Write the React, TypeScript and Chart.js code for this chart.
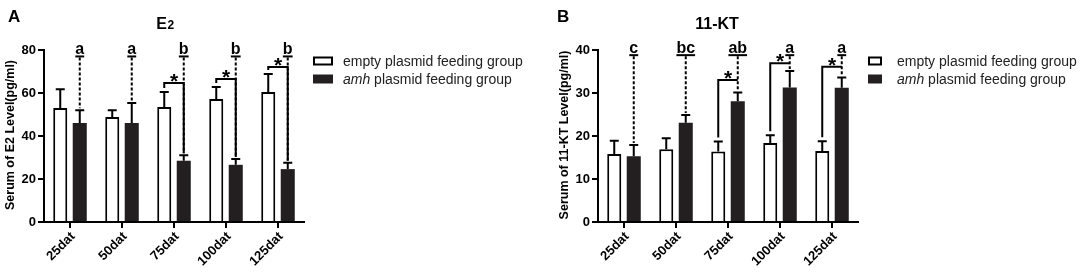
import React, { useEffect, useRef } from "react";
import { Chart, registerables } from "chart.js";
Chart.register(...registerables);

// ---------- data ----------
const categories = ["25dat", "50dat", "75dat", "100dat", "125dat"];

// Panel A: E2
const e2Empty = [53, 48.8, 53.5, 57.2, 60.5];
const e2EmptySem = [8.8, 3.2, 7.0, 5.6, 8.3];
const e2Amh = [46, 46, 28.5, 26.6, 24.6];
const e2AmhSem = [6.0, 9.3, 2.5, 2.7, 3.0];
const e2Letters = ["a", "a", "b", "b", "b"];
const e2LetterLevel = 77;
const e2Brackets: (number | null)[] = [null, null, 64.7, 66.5, 72.1];
const e2Max = 80;
const e2Step = 20;

// Panel B: 11-KT
const ktEmpty = [15.8, 16.9, 16.4, 18.4, 16.5];
const ktEmptySem = [3.1, 2.6, 2.3, 1.8, 2.3];
const ktAmh = [15.3, 23.1, 28.1, 31.3, 31.2];
const ktAmhSem = [2.6, 1.8, 2.0, 3.8, 2.4];
const ktLetters = ["c", "bc", "ab", "a", "a"];
const ktLetterLevel = 38.8;
const ktBrackets: (number | null)[] = [null, null, 33.0, 36.9, 36.1];
const ktMax = 40;
const ktStep = 10;

const seriesNames = ["empty plasmid feeding group", "amh plasmid feeding group"];

const FONT = '"Liberation Sans", Arial, Helvetica, sans-serif';
const DARK = "#231f20";

type PanelCfg = {
  letter: string;
  title: string;
  titleSub: string;
  yLabel: string;
  empty: number[];
  emptySem: number[];
  amh: number[];
  amhSem: number[];
  letters: string[];
  letterLevel: number;
  brackets: (number | null)[];
  yMax: number;
  yStep: number;
  solidRight: boolean;
  canvasW: number;
  areaLeft: number;
  areaRight: number;
  titleX: number;
  letterX: number;
  yLabelX: number;
  legendX: number;
  legendBoxW: number;
  legendTextX: number;
};

function makeOverlay(p: PanelCfg) {
  return {
    id: "overlay",
    afterDatasetsDraw(chart: any) {
      const ctx = chart.ctx as CanvasRenderingContext2D;
      const y = chart.scales.y;
      const m0 = chart.getDatasetMeta(0);
      const m1 = chart.getDatasetMeta(1);
      ctx.save();
      ctx.strokeStyle = "#000";
      ctx.fillStyle = "#000";
      // error bars
      const sets: [any, number[], number[]][] = [
        [m0, p.empty, p.emptySem],
        [m1, p.amh, p.amhSem],
      ];
      ctx.lineWidth = 2;
      sets.forEach(([m, v, s]) => {
        m.data.forEach((bar: any, i: number) => {
          const top = y.getPixelForValue(v[i] + s[i]);
          ctx.beginPath();
          ctx.moveTo(bar.x, bar.y);
          ctx.lineTo(bar.x, top);
          ctx.moveTo(bar.x - 4.5, top);
          ctx.lineTo(bar.x + 4.5, top);
          ctx.stroke();
        });
      });
      // letters + dashed lines
      const ly = y.getPixelForValue(p.letterLevel);
      m1.data.forEach((bar: any, i: number) => {
        const errTop = y.getPixelForValue(p.amh[i] + p.amhSem[i]);
        ctx.lineWidth = 2;
        ctx.setLineDash([3, 2]);
        ctx.beginPath();
        ctx.moveTo(bar.x, ly + 1);
        ctx.lineTo(bar.x, errTop - 2);
        ctx.stroke();
        ctx.setLineDash([]);
        ctx.font = `bold 16px ${FONT}`;
        ctx.textAlign = "center";
        ctx.textBaseline = "alphabetic";
        const t = p.letters[i];
        ctx.fillText(t, bar.x, ly - 2);
        const w = ctx.measureText(t).width;
        ctx.beginPath();
        ctx.moveTo(bar.x - w / 2, ly);
        ctx.lineTo(bar.x + w / 2, ly);
        ctx.stroke();
      });
      // significance brackets
      p.brackets.forEach((lvl, i) => {
        if (lvl == null) return;
        const x0 = m0.data[i].x;
        const x1 = m1.data[i].x;
        const by = y.getPixelForValue(lvl);
        const top0 = y.getPixelForValue(p.empty[i] + p.emptySem[i]) - 4;
        ctx.lineWidth = 2;
        ctx.beginPath();
        ctx.moveTo(x0, top0);
        ctx.lineTo(x0, by);
        ctx.lineTo(x1, by);
        if (p.solidRight) {
          ctx.lineTo(x1, y.getPixelForValue(p.amh[i] + p.amhSem[i]) - 2);
        }
        ctx.stroke();
        ctx.font = `bold 21px ${FONT}`;
        ctx.textAlign = "center";
        ctx.textBaseline = "alphabetic";
        ctx.fillText("*", (x0 + x1) / 2, by + 5);
      });
      ctx.restore();
    },
    afterDraw(chart: any) {
      const ctx = chart.ctx as CanvasRenderingContext2D;
      const area = chart.chartArea;
      ctx.save();
      ctx.fillStyle = "#000";
      ctx.textBaseline = "alphabetic";
      // panel letter
      ctx.font = `bold 17px ${FONT}`;
      ctx.textAlign = "left";
      ctx.fillText(p.letter, p.letterX, 22);
      // title
      ctx.font = `bold 16px ${FONT}`;
      const mainW = ctx.measureText(p.title).width;
      ctx.font = `bold 12px ${FONT}`;
      const subW = p.titleSub ? ctx.measureText(p.titleSub).width : 0;
      const startX = p.titleX - (mainW + subW) / 2;
      ctx.font = `bold 16px ${FONT}`;
      ctx.fillText(p.title, startX, 29);
      if (p.titleSub) {
        ctx.font = `bold 12px ${FONT}`;
        ctx.fillText(p.titleSub, startX + mainW + 0.5, 29);
      }
      // y label
      ctx.save();
      ctx.translate(p.yLabelX, (area.top + area.bottom) / 2 - 1);
      ctx.rotate(-Math.PI / 2);
      ctx.font = `bold 12.5px ${FONT}`;
      ctx.textAlign = "center";
      ctx.textBaseline = "middle";
      ctx.fillText(p.yLabel, 0, 0);
      ctx.restore();
      // legend
      const rows = [61, 79];
      ctx.lineWidth = 2;
      ctx.strokeStyle = "#000";
      ctx.strokeRect(p.legendX + 1, rows[0] - 3.5, p.legendBoxW - 2, 7);
      ctx.fillStyle = DARK;
      ctx.fillRect(p.legendX, rows[1] - 4.5, p.legendBoxW, 9);
      ctx.fillStyle = "#222";
      ctx.textAlign = "left";
      ctx.textBaseline = "middle";
      ctx.font = `14px ${FONT}`;
      ctx.fillText(seriesNames[0], p.legendTextX, rows[0] + 1);
      const parts = seriesNames[1].split(" ");
      const first = parts[0];
      const rest = " " + parts.slice(1).join(" ");
      ctx.font = `italic 14px ${FONT}`;
      ctx.fillText(first, p.legendTextX, rows[1] + 1);
      const fw = ctx.measureText(first).width;
      ctx.font = `14px ${FONT}`;
      ctx.fillText(rest, p.legendTextX + fw, rows[1] + 1);
      ctx.restore();
    },
  };
}

function Panel({ p, left }: { p: PanelCfg; left: number }) {
  const ref = useRef<HTMLCanvasElement>(null);
  useEffect(() => {
    const chart = new Chart(ref.current as HTMLCanvasElement, {
      type: "bar",
      data: {
        labels: categories,
        datasets: [
          {
            label: seriesNames[0],
            data: p.empty,
            backgroundColor: "#ffffff",
            borderColor: "#000000",
            borderWidth: 2,
            barPercentage: 0.72,
            categoryPercentage: 0.75,
          },
          {
            label: seriesNames[1],
            data: p.amh,
            backgroundColor: DARK,
            borderColor: DARK,
            borderWidth: 0,
            barPercentage: 0.72,
            categoryPercentage: 0.75,
          },
        ],
      },
      options: {
        responsive: false,
        animation: false,
        devicePixelRatio: 1,
        layout: {
          padding: { left: 0, top: 50, right: p.canvasW - p.areaRight, bottom: 0 },
        },
        plugins: {
          legend: { display: false },
          title: { display: false },
          tooltip: { enabled: false },
        },
        scales: {
          x: {
            offset: true,
            grid: {
              display: true,
              offset: false,
              drawOnChartArea: false,
              drawTicks: true,
              tickLength: 6,
              color: "#000",
              lineWidth: 2,
            },
            border: { display: true, color: "#000", width: 2 },
            ticks: {
              color: "#000",
              font: { family: FONT, size: 13, weight: "bold" },
              minRotation: 45,
              maxRotation: 45,
              padding: 1,
              labelOffset: 3,
            },
            afterFit: (s: any) => {
              s.height = 53;
            },
          },
          y: {
            min: 0,
            max: p.yMax,
            grid: {
              display: true,
              drawOnChartArea: false,
              drawTicks: true,
              tickLength: 6,
              color: "#000",
              lineWidth: 2,
            },
            border: { display: true, color: "#000", width: 2 },
            ticks: {
              stepSize: p.yStep,
              color: "#000",
              font: { family: FONT, size: 13, weight: "bold" },
              padding: 2,
            },
            afterFit: (s: any) => {
              s.width = p.areaLeft;
            },
          },
        },
      },
      plugins: [makeOverlay(p)],
    } as any);
    return () => chart.destroy();
  }, []);
  return (
    <canvas
      ref={ref}
      width={p.canvasW}
      height={275}
      style={{ position: "absolute", left, top: 0, width: p.canvasW, height: 275 }}
    />
  );
}

const panelA: PanelCfg = {
  letter: "A",
  title: "E",
  titleSub: "2",
  yLabel: "Serum of E2 Level(pg/ml)",
  empty: e2Empty,
  emptySem: e2EmptySem,
  amh: e2Amh,
  amhSem: e2AmhSem,
  letters: e2Letters,
  letterLevel: e2LetterLevel,
  brackets: e2Brackets,
  yMax: e2Max,
  yStep: e2Step,
  solidRight: true,
  canvasW: 540,
  areaLeft: 44,
  areaRight: 304,
  titleX: 165,
  letterX: 8,
  yLabelX: 11,
  legendX: 313,
  legendBoxW: 20,
  legendTextX: 343,
};

const panelB: PanelCfg = {
  letter: "B",
  title: "11-KT",
  titleSub: "",
  yLabel: "Serum of 11-KT Level(pg/ml)",
  empty: ktEmpty,
  emptySem: ktEmptySem,
  amh: ktAmh,
  amhSem: ktAmhSem,
  letters: ktLetters,
  letterLevel: ktLetterLevel,
  brackets: ktBrackets,
  yMax: ktMax,
  yStep: ktStep,
  solidRight: false,
  canvasW: 544,
  areaLeft: 58,
  areaRight: 318,
  titleX: 177,
  letterX: 17,
  yLabelX: 25,
  legendX: 328,
  legendBoxW: 14,
  legendTextX: 357,
};

export default function App() {
  return (
    <div
      style={{
        position: "absolute",
        left: 0,
        top: 0,
        width: 1084,
        height: 275,
        background: "#fff",
        overflow: "hidden",
      }}
    >
      <Panel p={panelA} left={0} />
      <Panel p={panelB} left={540} />
    </div>
  );
}
